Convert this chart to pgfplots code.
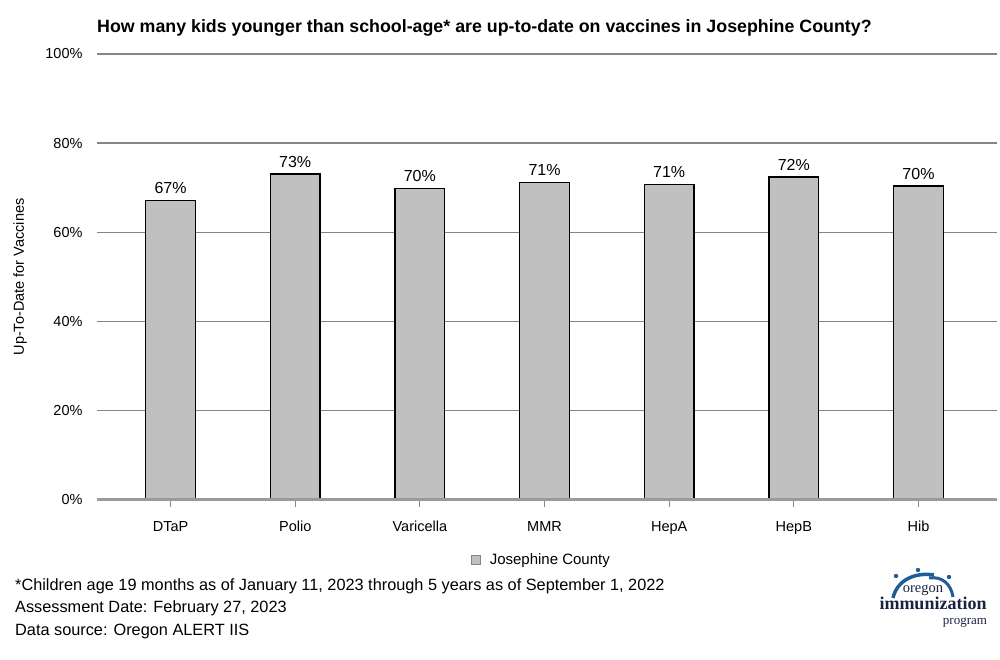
\documentclass[border=0pt]{standalone}
\usepackage{fontspec}
\setmainfont{Liberation Sans}
\newfontfamily\logofont{Liberation Serif}
\usepackage{pgfplots}
\pgfplotsset{compat=1.18}
\definecolor{gridgray}{HTML}{858585}
\definecolor{axisgray}{HTML}{9A9A9A}
\definecolor{bargray}{HTML}{C0C0C0}
\definecolor{logoblue}{HTML}{1F5C99}
\definecolor{logonavy}{HTML}{1A2340}
\newcommand{\fs}[1]{\fontsize{#1bp}{#1bp}\selectfont}
\begin{document}
\begin{tikzpicture}[x=1bp,y=1bp]
\useasboundingbox (0,0) rectangle (1000,660);
\begin{axis}[
  at={(97bp,160bp)}, anchor=south west,
  scale only axis, width=900bp, height=446bp,
  xmin=-0.59, xmax=6.63, ymin=0, ymax=100,
  axis line style={draw=none},
  ytick={0,20,40,60,80,100},
  yticklabel={\pgfmathprintnumber[assume math mode=true]{\tick}\%},
  ymajorgrids, grid style={draw=gridgray, line width=1.4bp},
  ytick style={draw=none},
  xtick={0,...,6},
  xticklabels={DTaP,Polio,Varicella,MMR,HepA,HepB,Hib},
  xtick style={draw=gridgray, line width=1bp},
  tick align=outside, xtick pos=bottom, ytick pos=left,
  major tick length=7bp,
  tick label style={font=\fs{14.5}, text=black},
  yticklabel style={xshift=-4bp},
  xticklabel style={yshift=-10bp, text height=11bp, text depth=3bp, anchor=north},
  ylabel={Up-To-Date for Vaccines},
  ylabel style={font=\fs{14.5}, at={(axis description cs:-0.0855,0.5)}, anchor=center},
  legend style={at={(0.494,-0.135)}, anchor=center, draw=none, fill=none, font=\fs{15}, inner sep=0pt},
  legend image code/.code={\draw[fill=bargray, draw=gridgray, line width=0.8bp] (0bp,-4.5bp) rectangle (9bp,4.5bp); \path[draw=none, fill=none] (9bp,0) -- (16bp,0);},
  clip=false,
]
\addplot[ybar, bar width=0.4, fill=bargray, draw=black, line width=1.4bp,
  point meta=explicit symbolic,
  nodes near coords={\pgfplotspointmeta\%},
  nodes near coords style={font=\fs{16}, text=black, inner sep=2bp, yshift=4bp}]
  table[x=x, y=y, meta=lab] {
x y lab
0 67.1 67
1 73.1 73
2 69.9 70
3 71.2 71
4 70.8 71
5 72.4 72
6 70.4 70
};
\addlegendentry{Josephine County}
\draw[axisgray, line width=3bp] (axis cs:-0.59,0) -- (axis cs:6.63,0);
\end{axis}
% title
\node[anchor=base west, inner sep=0pt, font=\fs{17.8}\bfseries] at (97,627) {How many kids younger than school-age* are up-to-date on vaccines in Josephine County?};
% footnotes
\node[anchor=base west, inner sep=0pt, font=\fs{16.3}] at (15,69) {*Children age 19 months as of January 11, 2023 through 5 years as of September 1, 2022};
\node[anchor=base west, inner sep=0pt, font=\fs{16.3}] at (15,47) {Assessment Date: February 27, 2023};
\node[anchor=base west, inner sep=0pt, font=\fs{16.3}] at (15,24) {Data source: Oregon ALERT IIS};
% logo
\draw[logoblue, line width=3.5bp] (893,62) .. controls (897,80) and (915,88) .. (934,85);
\draw[logoblue, line width=3bp] (929,82) .. controls (942,84) and (951,76) .. (953,63);
\fill[logoblue] (896,84) circle (2.2);
\fill[logoblue] (918,90) circle (2.2);
\fill[logoblue] (949,83) circle (2.2);
\node[anchor=base, inner sep=0pt, text=logonavy, font=\logofont\fs{14.5}] at (923,67) {oregon};
\node[anchor=base, inner sep=0pt, text=logonavy, font=\logofont\bfseries\fs{18}] at (933,50) {immunization};
\node[anchor=base, inner sep=0pt, text=logonavy, font=\logofont\fs{13}] at (965,35) {program};
\end{tikzpicture}
\end{document}
